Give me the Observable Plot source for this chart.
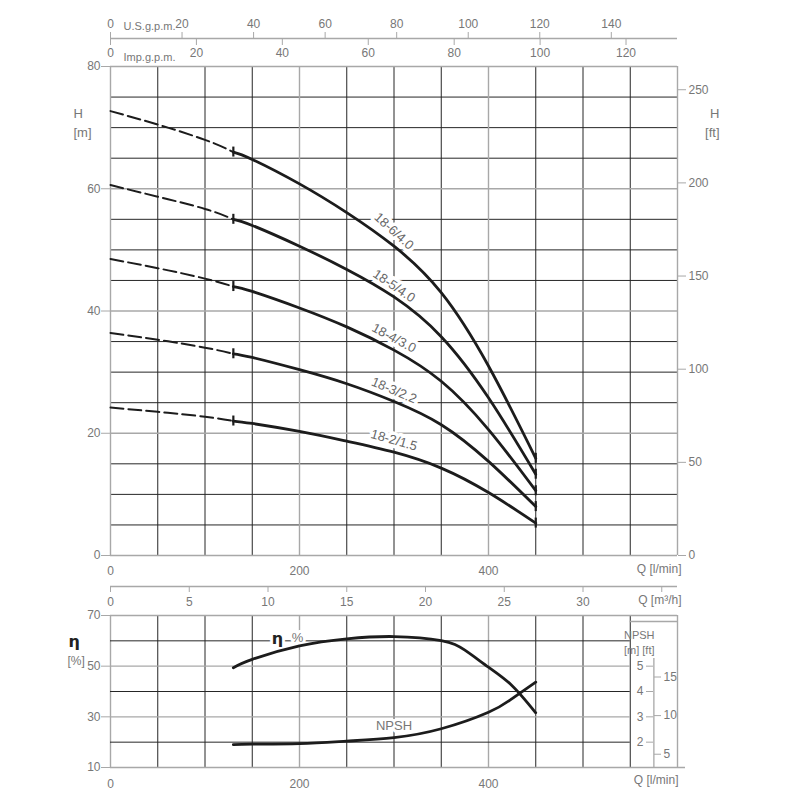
<!DOCTYPE html>
<html><head><meta charset="utf-8">
<script src="https://cdn.jsdelivr.net/npm/d3@7"></script>
<script src="https://cdn.jsdelivr.net/npm/@observablehq/plot@0.6"></script>
<style>
body{margin:0;background:#fff}
#wrap{position:relative;width:800px;height:800px;overflow:hidden}
#topchart,#botchart{position:absolute;left:0}
#topchart{top:0}
#botchart{top:600px}
svg{font-family:"Liberation Sans",Arial,sans-serif}
</style></head><body><div id="wrap"><div id="topchart"></div><div id="botchart"></div></div>
<script>
// ---------- data ----------
const flow = [0, 50, 100, 130, 150, 200, 250, 300, 350, 400, 450];       // Q [l/min]
const models = ["18-6/4.0", "18-5/4.0", "18-4/3.0", "18-3/2.2", "18-2/1.5"];
const head_18_6 = [72.7, 70.5, 68.0, 66.0, 64.8, 60.8, 56.1, 50.6, 43.0, 31.0, 15.9];
const head_18_5 = [60.6, 58.7, 56.7, 55.0, 54.0, 50.6, 46.8, 42.3, 35.8, 25.8, 13.3];
const head_18_4 = [48.5, 47.0, 45.3, 44.0, 43.2, 40.5, 37.4, 33.6, 28.5, 20.6, 10.6];
const head_18_3 = [36.4, 35.3, 34.0, 33.0, 32.4, 30.4, 28.1, 25.2, 21.4, 15.4, 8.0];
const head_18_2 = [24.2, 23.5, 22.7, 22.0, 21.6, 20.3, 18.7, 16.9, 14.3, 10.3, 5.3];
const dutyStart = 130;   // start of recommended range (dashed before)
const dutyEnd = 450;

const effFlow = [130, 150, 200, 250, 300, 350, 375, 400, 425, 450];
const efficiency = [49.4, 52.7, 58.0, 60.8, 61.7, 60.1, 56.3, 49.6, 42.3, 31.6];
const npshFlow = [130, 150, 200, 250, 300, 350, 400, 425, 450];
const npshM = [1.90, 1.92, 1.94, 2.04, 2.18, 2.53, 3.18, 3.72, 4.37];

const qTicks = [0, 200, 400];
const hTicks = [0, 20, 40, 60, 80];
const ftTicks = [0, 50, 100, 150, 200, 250];
const usgpmTicks = [0, 20, 40, 60, 80, 100, 120, 140];
const impgpmTicks = [0, 20, 40, 60, 80, 100, 120];
const m3hTicks = [0, 5, 10, 15, 20, 25, 30, 35];
const m3hLabels = ["0", "5", "10", "15", "20", "25", "30", ""];
const etaTicks = [10, 30, 50, 70];
const npshMTicks = [2, 3, 4, 5];
const npshFtTicks = [5, 10, 15];
const npshAxisSpan = [1, 5.3];   // m

const gridQMinor = [50, 100, 150, 250, 300, 350, 450, 500, 550];
const gridQMajor = [0, 200, 400, 600];
const gridHMinor = [5, 10, 15, 25, 30, 35, 45, 50, 55, 65, 70, 75];
const gridHMajor = [0, 20, 40, 60, 80];
const gridEtaMinor = [20, 40, 60];
const gridEtaMajor = [30, 50];

// ---------- constants ----------
const L_PER_USGAL = 3.785411784, L_PER_IMPGAL = 4.54609, M_PER_FT = 0.3048;
const NPSH_TO_ETA = 10;   // 1 m NPSH is drawn on 10 % of the eta grid

const heads = [head_18_6, head_18_5, head_18_4, head_18_3, head_18_2];
const curves = models.flatMap((m, i) => flow.map((q, j) => ({model: m, q, h: heads[i][j]})));
const dashed = curves.filter(d => d.q <= dutyStart);
const solid = curves.filter(d => d.q >= dutyStart);
const markers = curves.filter(d => d.q === dutyStart || d.q === dutyEnd);
const labelStyle = {
  "18-6/4.0": {rotate: 42, dy: -15}, "18-5/4.0": {rotate: 34, dy: -11},
  "18-4/3.0": {rotate: 28, dy: -12}, "18-3/2.2": {rotate: 23, dy: -11}, "18-2/1.5": {rotate: 16, dy: -12}
};
const effRows = effFlow.map((q, i) => ({q, eta: efficiency[i]}));
const npshRows = npshFlow.map((q, i) => ({q, npsh: npshM[i]}));

const DARK = "#262626", GREY = "#a8a8a8", TXT = "#777", CURVE = "#1c1c1c";
const common = {width: 800, marginLeft: 110, marginRight: 123, x: {domain: [0, 600]},
  style: {background: "transparent", fontSize: "12px", color: TXT, overflow: "visible"}};

// ---------- top chart ----------
const topPlot = Plot.plot({
  ...common, height: 610, marginTop: 66, marginBottom: 55,
  y: {domain: [0, 80]},
  marks: [
    Plot.ruleX(gridQMinor, {stroke: DARK, strokeWidth: 1}),
    Plot.ruleY(gridHMinor, {stroke: DARK, strokeWidth: 1}),
    Plot.ruleX(gridQMajor, {stroke: GREY, strokeWidth: 1.4}),
    Plot.ruleY(gridHMajor, {stroke: GREY, strokeWidth: 1.4}),
    // curve labels (anchored on each curve at Q = 300)
    ...models.map(m => Plot.text(curves.filter(d => d.model === m && d.q === 300), {
      x: "q", y: "h", text: "model", rotate: labelStyle[m].rotate, dy: labelStyle[m].dy,
      fill: "#666", stroke: "white", strokeWidth: 7, fontSize: 13})),
    Plot.line(dashed, {x: "q", y: "h", z: "model", curve: "natural", stroke: CURVE,
      strokeWidth: 2, strokeDasharray: "13,5"}),
    Plot.line(solid, {x: "q", y: "h", z: "model", curve: "natural", stroke: CURVE, strokeWidth: 2.8}),
    Plot.ruleX(markers, {x: "q", y1: "h", y2: "h", insetTop: -5, insetBottom: -5, stroke: CURVE, strokeWidth: 2.2}),
    // axes
    Plot.axisY(hTicks, {anchor: "left", label: null, tickSize: 9, tickPadding: 1, stroke: GREY}),
    Plot.axisY(ftTicks.map(f => f * M_PER_FT), {anchor: "right", label: null, tickSize: 8, tickPadding: 3, stroke: GREY,
      tickFormat: d => Math.round(d / M_PER_FT)}),
    Plot.axisX(qTicks, {anchor: "bottom", label: null, tickSize: 0, tickPadding: 11}),
    Plot.text(["Q [l/min]"], {frameAnchor: "bottom-right", dx: 4, dy: 17, fill: TXT}),
    // m3/h axis
    Plot.ruleY([0], {dy: 31, stroke: GREY, strokeWidth: 1.3}),
    Plot.axisX(m3hTicks.map(v => v * 1000 / 60), {anchor: "bottom", label: null, dy: 31, tickSize: 6, tickPadding: 5,
      stroke: GREY, tickFormat: (d, i) => m3hLabels[i]}),
    Plot.text(["Q [m³/h]"], {frameAnchor: "bottom-right", dx: 4, dy: 48, fill: TXT}),
    // gpm axes
    Plot.ruleY([80], {dy: -28, stroke: GREY, strokeWidth: 1.3}),
    Plot.axisX(usgpmTicks.map(g => g * L_PER_USGAL), {anchor: "top", label: null, dy: -28, tickSize: 7, tickPadding: 4,
      stroke: GREY, tickFormat: d => Math.round(d / L_PER_USGAL)}),
    Plot.axisX(impgpmTicks.map(g => g * L_PER_IMPGAL), {anchor: "bottom", label: null, dy: -517, tickSize: 7, tickPadding: 3,
      stroke: GREY, tickFormat: d => Math.round(d / L_PER_IMPGAL)}),
    Plot.text([{q: 0, t: "U.S.g.p.m."}], {x: "q", text: "t", frameAnchor: "top", dy: -44, dx: 13, textAnchor: "start", fill: TXT, fontSize: 11}),
    Plot.text([{q: 0, t: "Imp.g.p.m."}], {x: "q", text: "t", frameAnchor: "top", dy: -13, dx: 13, textAnchor: "start", fill: TXT, fontSize: 11}),
    // unit labels
    Plot.text(["H"], {frameAnchor: "top-left", dx: -37, dy: 42, fontSize: 13, fill: TXT}),
    Plot.text(["[m]"], {frameAnchor: "top-left", dx: -37, dy: 61, fontSize: 13, fill: TXT}),
    Plot.text(["H"], {frameAnchor: "top-right", dx: 42, dy: 42, fontSize: 13, fill: TXT}),
    Plot.text(["[ft]"], {frameAnchor: "top-right", dx: 42, dy: 61, fontSize: 13, fill: TXT})
  ]
});
document.getElementById("topchart").append(topPlot);

// ---------- bottom chart ----------
const botPlot = Plot.plot({
  ...common, height: 200, marginTop: 15, marginBottom: 33,
  y: {domain: [10, 70]},
  marks: [
    Plot.ruleX(gridQMinor, {stroke: DARK, strokeWidth: 1}),
    Plot.ruleX(gridQMajor, {stroke: GREY, strokeWidth: 1.4}),
    Plot.ruleY(gridEtaMinor, {x1: 0, x2: 550, stroke: DARK, strokeWidth: 1}),
    Plot.ruleY(gridEtaMajor, {x1: 0, x2: 550, stroke: GREY, strokeWidth: 1.4}),
    Plot.ruleY([70], {x1: 0, x2: 600, stroke: GREY, strokeWidth: 1.4}),
    Plot.ruleY([70], {x1: 550, x2: 600, dy: 6, stroke: GREY, strokeWidth: 1.4}),
    Plot.ruleY([10], {x1: 0, x2: 600, insetRight: -8, stroke: GREY, strokeWidth: 1.4}),
    // NPSH scale
    Plot.ruleX([575], {y1: npshAxisSpan[0] * NPSH_TO_ETA, y2: npshAxisSpan[1] * NPSH_TO_ETA, stroke: GREY, strokeWidth: 1.3}),
    Plot.axisY(npshMTicks.map(m => m * NPSH_TO_ETA), {anchor: "left", label: null, dx: 543, tickSize: 7, tickPadding: 3,
      stroke: GREY, tickFormat: d => d / NPSH_TO_ETA}),
    Plot.axisY(npshFtTicks.map(f => f * M_PER_FT * NPSH_TO_ETA), {anchor: "right", label: null, dx: -24, tickSize: 7, tickPadding: 3,
      stroke: GREY, tickFormat: d => Math.round(d / NPSH_TO_ETA / M_PER_FT)}),
    Plot.text(["NPSH"], {frameAnchor: "top-right", dx: -23, dy: 16, fill: TXT, fontSize: 11}),
    Plot.text(["[m] [ft]"], {frameAnchor: "top-right", dx: -23, dy: 31, fill: TXT, fontSize: 11}),
    // curve labels
    Plot.text(effRows.filter(d => d.q === 200), {x: "q", y: "eta", text: () => "η", dx: -22, dy: -7,
      fill: "#222", fontWeight: "bold", fontSize: 16, stroke: "white", strokeWidth: 6, fontFamily: "DejaVu Sans"}),
    Plot.text(effRows.filter(d => d.q === 200), {x: "q", y: "eta", text: () => "%", dx: -2, dy: -8,
      fill: TXT, fontSize: 13, stroke: "white", strokeWidth: 6}),
    Plot.text(npshRows.filter(d => d.q === 300), {x: "q", y: d => d.npsh * NPSH_TO_ETA, text: () => "NPSH",
      dy: -12, fill: TXT, fontSize: 13, stroke: "white", strokeWidth: 6}),
    // curves
    Plot.line(effRows, {x: "q", y: "eta", curve: "natural", stroke: CURVE, strokeWidth: 2.8}),
    Plot.line(npshRows, {x: "q", y: d => d.npsh * NPSH_TO_ETA, curve: "natural", stroke: CURVE, strokeWidth: 2.8}),
    // axes
    Plot.axisY(etaTicks, {anchor: "left", label: null, tickSize: 9, tickPadding: 1, stroke: GREY}),
    Plot.axisX(qTicks, {anchor: "bottom", label: null, tickSize: 0, tickPadding: 12}),
    Plot.text(["Q [l/min]"], {frameAnchor: "bottom-right", dx: 1, dy: 16, fill: TXT}),
    Plot.text(["η"], {frameAnchor: "top-left", dx: -42, dy: 20, fontSize: 16, fontWeight: "bold", fill: "#222", fontFamily: "DejaVu Sans"}),
    Plot.text(["[%]"], {frameAnchor: "top-left", dx: -43, dy: 41, fontSize: 12, fill: TXT})
  ]
});
document.getElementById("botchart").append(botPlot);
</script></body></html>
